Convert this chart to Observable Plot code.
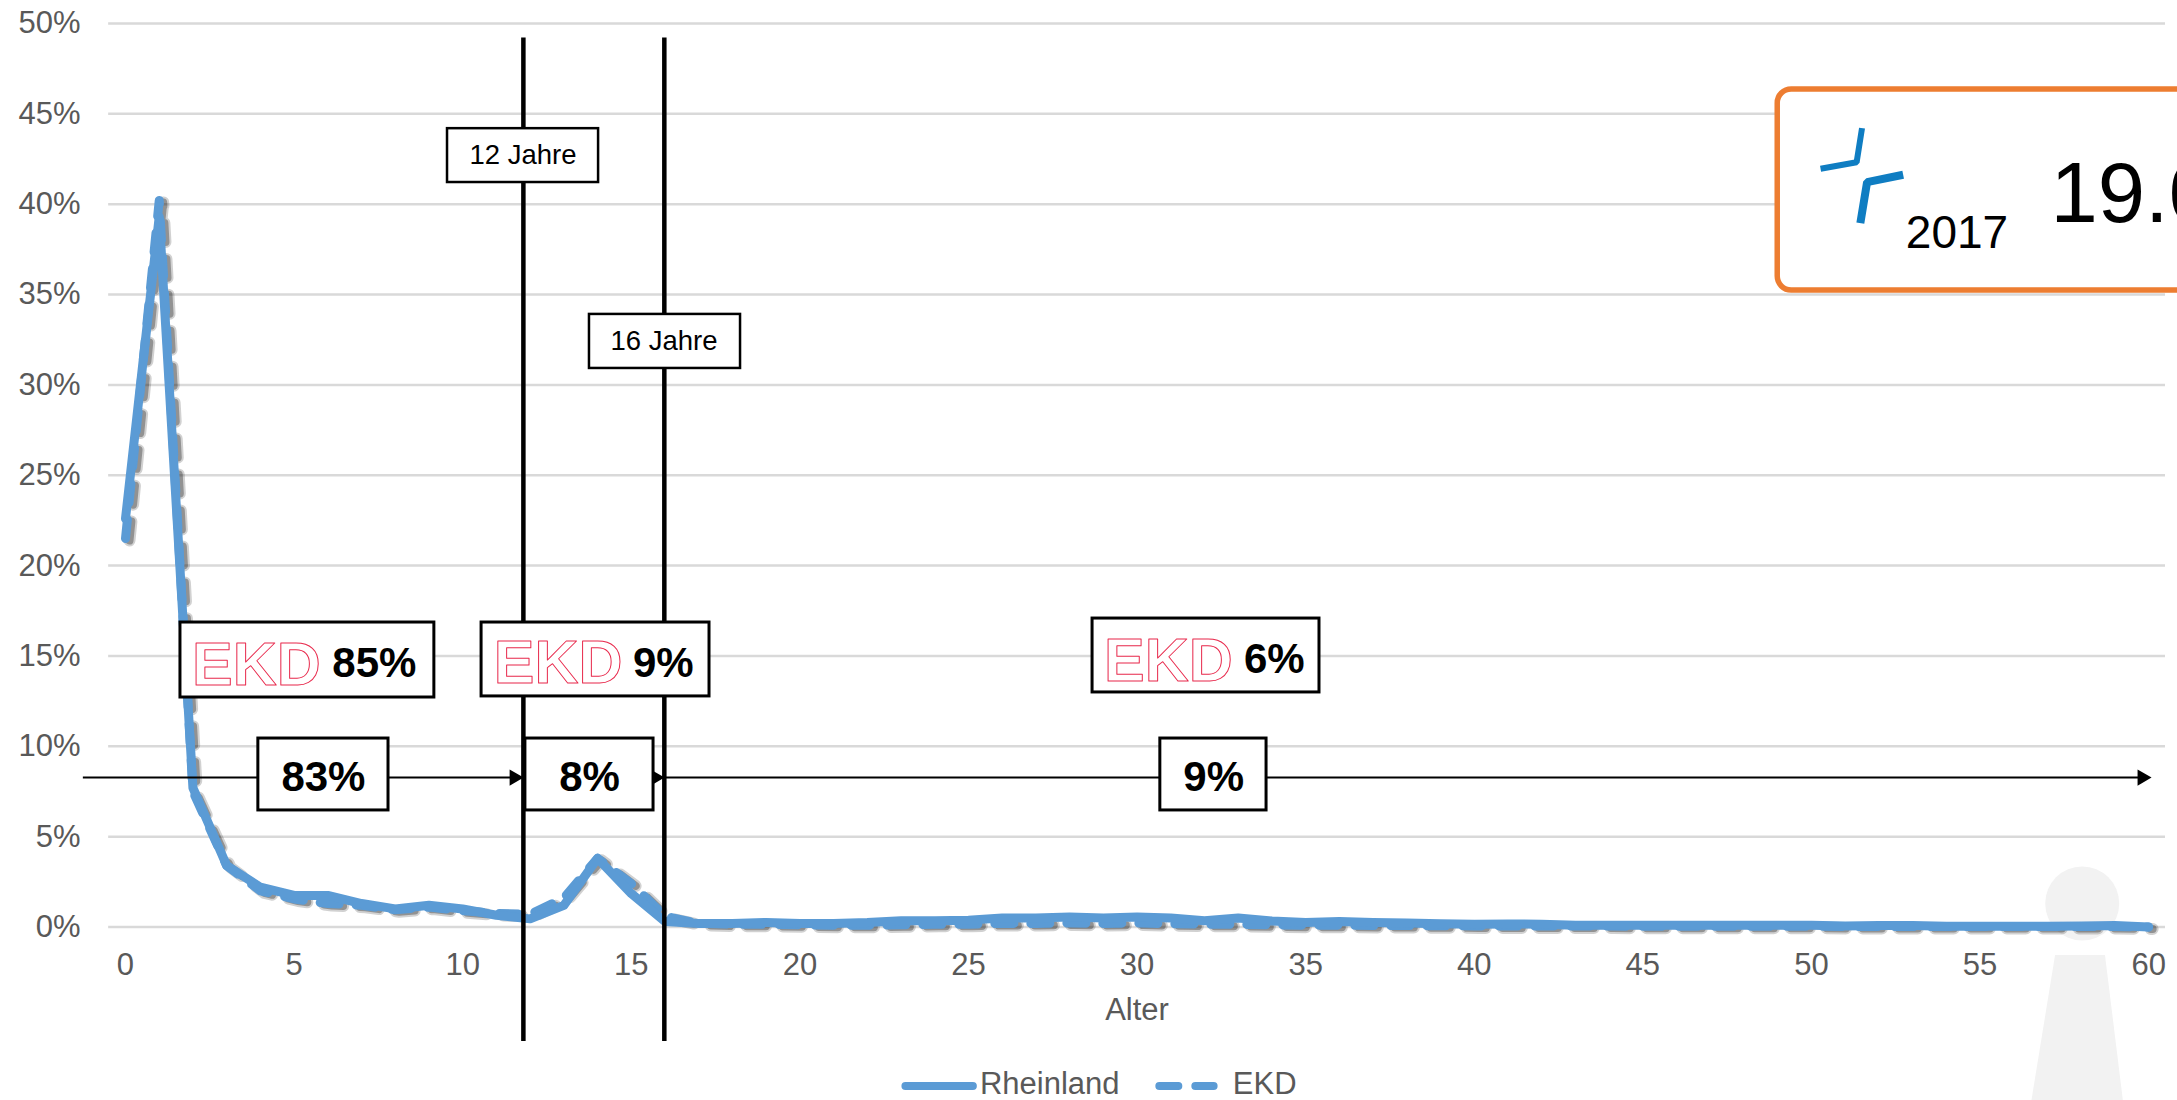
<!DOCTYPE html>
<html lang="de">
<head>
<meta charset="utf-8">
<script src="https://cdn.jsdelivr.net/npm/d3@7"></script>
<script src="https://cdn.jsdelivr.net/npm/@observablehq/plot@0.6"></script>
<style>
html,body{margin:0;padding:0;background:#fff;overflow:hidden}
svg{display:block}
</style>
</head>
<body>
<div id="chart"></div>
<script>
const ages = d3.range(0, 61);
const rheinland = [22.6,39.3,7.7,3.4,2.2,1.75,1.75,1.3,1.0,1.2,1.0,0.65,0.45,1.2,3.8,1.85,0.3,0.2,0.2,0.25,0.2,0.2,0.25,0.35,0.35,0.38,0.5,0.5,0.55,0.5,0.55,0.5,0.35,0.5,0.33,0.25,0.3,0.25,0.22,0.18,0.15,0.17,0.15,0.1,0.1,0.1,0.1,0.1,0.1,0.1,0.1,0.05,0.08,0.08,0.04,0.04,0.04,0.04,0.05,0.08,0];
const ekd = [21.5,40.2,7.5,3.4,2.0,1.55,1.3,1.2,0.95,1.1,0.9,0.75,0.7,1.6,3.8,2.4,0.6,0.2,0.15,0.15,0.12,0.1,0.1,0.12,0.15,0.15,0.2,0.2,0.22,0.2,0.22,0.18,0.15,0.15,0.12,0.1,0.1,0.08,0.08,0.07,0.06,0.06,0.05,0.05,0.05,0.04,0.04,0.04,0.04,0.04,0.04,0.03,0.03,0.03,0.03,0.03,0.03,0.03,0.03,0.03,0];
const xTicks = d3.range(0, 61, 5);
const yTicks = d3.range(0, 51, 5);
const ageLimits = [11.8, 15.98];
const ageLimitLabels = ["12 Jahre", "16 Jahre"];
const rheinlandShares = ["83%", "8%", "9%"];
const ekdShares = ["85%", "9%", "6%"];

const seriesA = ages.map((a, i) => ({a, v: rheinland[i]}));
const seriesB = ages.map((a, i) => ({a, v: ekd[i]}));

const font = "Liberation Sans, Arial, sans-serif";
const grey = "#595959";
const blue = "#5B9BD5";
const dash = "19 17";

// Annotation layout, in chart units (age, percent)
const limitBoxes = [
  {x1:9.55, x2:14.03, y1:41.2, y2:44.18, tx:11.79, ty:42.7, t:ageLimitLabels[0]},
  {x1:13.76, x2:18.24, y1:30.91, y2:33.9, tx:15.97, ty:32.4, t:ageLimitLabels[1]}
];
const shareBoxes = [
  {x1:3.94, x2:7.8, y1:6.45, y2:10.43, tx:5.87, ty:7.55, t:rheinlandShares[0]},
  {x1:11.86, x2:15.66, y1:6.45, y2:10.43, tx:13.76, ty:7.55, t:rheinlandShares[1]},
  {x1:30.69, x2:33.84, y1:6.45, y2:10.43, tx:32.27, ty:7.55, t:rheinlandShares[2]}
];
const ekdBoxes = [
  {x1:1.63, x2:9.16, y1:12.7, y2:16.85, tx:7.38, ty:13.81, lx:3.88, ly:13.42, t:ekdShares[0]},
  {x1:10.56, x2:17.32, y1:12.76, y2:16.85, tx:15.95, ty:13.86, lx:12.83, ly:13.49, t:ekdShares[1]},
  {x1:28.68, x2:35.41, y1:12.98, y2:17.07, tx:34.07, ty:14.03, lx:30.93, ly:13.64, t:ekdShares[2]}
];
const arrowHeads = [{x:11.53},{x:15.71},{x:59.81}];
const logoUpper = [{x:50.27,y:41.96},{x:51.34,y:42.32},{x:51.5,y:44.21}];
const logoLower = [{x:52.72,y:41.63},{x:51.65,y:41.22},{x:51.45,y:38.95}];
const figureBody = [{y:-1.58,x1:57.24,x2:58.72},{y:-9.6,x1:56.54,x2:59.25}];

const svg = Plot.plot({
  width: 2177,
  height: 1100,
  marginLeft: 108.14,
  marginRight: 12,
  marginTop: 23,
  marginBottom: 173.5,
  style: {fontFamily: font, background: "#fff"},
  x: {domain: [-0.5, 60.5]},
  y: {domain: [0, 50]},
  marks: [
    // silhouette
    Plot.areaX(figureBody, {y:"y", x1:"x1", x2:"x2", fill:"#f2f2f2"}),
    Plot.dot([{x:58.03,y:1.3}], {x:"x", y:"y", r:37, fill:"#f2f2f2", stroke:"none"}),
    // grid + axes
    Plot.ruleY(yTicks, {stroke:"#d9d9d9", strokeWidth:2.5}),
    Plot.axisY(yTicks, {tickSize:0, tickPadding:28, tickFormat:d => `${d}%`, fontSize:31, color:grey, label:null}),
    Plot.axisX(xTicks, {tickSize:0, tickPadding:26, fontSize:31, color:grey, label:null}),
    Plot.text(["Alter"], {x:()=>30, y:()=>-5.17, text:d=>d, fontSize:31, fill:grey, lineAnchor:"bottom"}),
    // series, the dashed one with a soft offset shadow
    Plot.line(seriesB, {x:"a", y:"v", dx:4, dy:2, stroke:"#000", strokeOpacity:0.18, strokeWidth:12, strokeDasharray:dash, strokeLinecap:"round"}),
    Plot.line(seriesB, {x:"a", y:"v", dx:4, dy:2, stroke:"#000", strokeOpacity:0.3, strokeWidth:8, strokeDasharray:dash, strokeLinecap:"round"}),
    Plot.line(seriesB, {x:"a", y:"v", stroke:blue, strokeWidth:9, strokeDasharray:dash, strokeLinecap:"round"}),
    Plot.line(seriesA, {x:"a", y:"v", stroke:blue, strokeWidth:9, strokeLinecap:"round"}),
    // arrow
    Plot.ruleY([8.27], {x1:-1.25, x2:59.9, stroke:"#000", strokeWidth:2}),
    Plot.dot(arrowHeads, {x:"x", y:()=>8.27, symbol:"triangle", rotate:90, r:6, fill:"#000", stroke:"none"}),
    // age limits
    Plot.ruleX(ageLimits, {y1:49.2, y2:-6.34, stroke:"#000", strokeWidth:4.5}),
    // boxes
    Plot.rect(limitBoxes, {x1:"x1", x2:"x2", y1:"y1", y2:"y2", fill:"#fff", stroke:"#000", strokeWidth:2.5}),
    Plot.text(limitBoxes, {x:"tx", y:"ty", text:"t", fontSize:27.5, fill:"#000"}),
    Plot.rect(shareBoxes, {x1:"x1", x2:"x2", y1:"y1", y2:"y2", fill:"#fff", stroke:"#000", strokeWidth:3}),
    Plot.text(shareBoxes, {x:"tx", y:"ty", text:"t", fontSize:42, fontWeight:"bold", fill:"#000", lineAnchor:"bottom"}),
    Plot.rect(ekdBoxes, {x1:"x1", x2:"x2", y1:"y1", y2:"y2", fill:"#fff", stroke:"#000", strokeWidth:3}),
    Plot.text(ekdBoxes, {x:"tx", y:"ty", text:"t", fontSize:42, fontWeight:"bold", fill:"#000", lineAnchor:"bottom"}),
    Plot.text(ekdBoxes, {x:"lx", y:"ly", text:()=>"EKD", fontSize:61, fontWeight:"bold", fill:"#fff", stroke:"#E8294C", strokeWidth:1, paintOrder:"normal", lineAnchor:"bottom", ariaLabel:"ekd-logo"}),
    // orange callout
    Plot.rect([{x1:49.0, x2:64, y1:35.22, y2:46.35}], {x1:"x1", x2:"x2", y1:"y1", y2:"y2", fill:"#fff", stroke:"#ED7D31", strokeWidth:5.5, rx:14}),
    Plot.line(logoUpper, {x:"x", y:"y", stroke:"#0F7DC2", strokeWidth:6, strokeLinecap:"butt", strokeLinejoin:"miter"}),
    Plot.line(logoLower, {x:"x", y:"y", stroke:"#0F7DC2", strokeWidth:8, strokeLinecap:"butt", strokeLinejoin:"miter"}),
    Plot.text(["2017"], {x:()=>52.8, y:()=>37.55, text:d=>d, fontSize:46, fill:"#000", textAnchor:"start", lineAnchor:"bottom"}),
    Plot.text(["19.0"], {x:()=>57.09, y:()=>38.99, text:d=>d, fontSize:85, fill:"#000", textAnchor:"start", lineAnchor:"bottom"}),
    // legend
    Plot.line([{x:23.13},{x:25.13}], {x:"x", y:()=>-8.8, stroke:blue, strokeWidth:8, strokeLinecap:"round"}),
    Plot.text(["Rheinland"], {x:()=>25.34, y:()=>-9.22, text:d=>d, fontSize:31, fill:grey, textAnchor:"start", lineAnchor:"bottom"}),
    Plot.line([{x:30.66},{x:32.27}], {x:"x", y:()=>-8.8, stroke:blue, strokeWidth:8, strokeDasharray:dash, strokeLinecap:"round"}),
    Plot.text(["EKD"], {x:()=>32.84, y:()=>-9.22, text:d=>d, fontSize:31, fill:grey, textAnchor:"start", lineAnchor:"bottom"})
  ]
});
d3.select(svg).selectAll('[aria-label="ekd-logo"] text').style("letter-spacing", "-4px");
document.getElementById("chart").append(svg);
</script>
</body>
</html>
